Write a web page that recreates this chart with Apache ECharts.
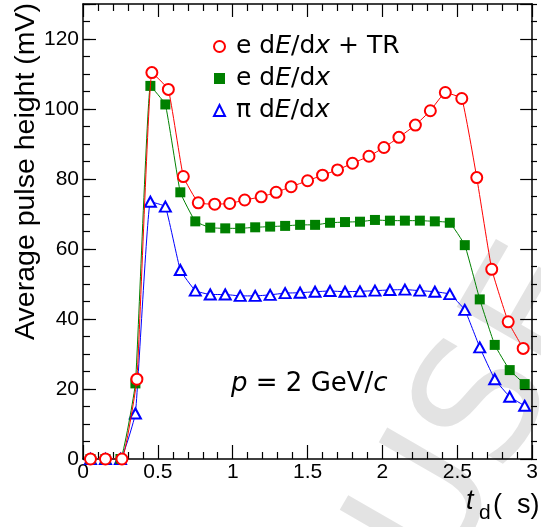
<!DOCTYPE html>
<html>
<head>
<meta charset="utf-8">
<script src="https://cdn.jsdelivr.net/npm/echarts@6/dist/echarts.min.js"></script>
<style>
  html, body { margin: 0; padding: 0; background: #ffffff; }
  #chart { width: 541px; height: 527px; }
</style>
</head>
<body>
<div id="chart"></div>
<script>
// drift time (us) of the bins
var tBins = [0.05, 0.15, 0.25, 0.35, 0.45, 0.55, 0.65, 0.75, 0.85, 0.95,
             1.05, 1.15, 1.25, 1.35, 1.45, 1.55, 1.65, 1.75, 1.85, 1.95,
             2.05, 2.15, 2.25, 2.35, 2.45, 2.55, 2.65, 2.75, 2.85, 2.95];
// the TR sample has its own (slightly wider) bins
var tBinsTR = [0.05, 0.15, 0.26, 0.36, 0.46, 0.57, 0.67, 0.77, 0.88, 0.98,
               1.08, 1.19, 1.29, 1.39, 1.50, 1.60, 1.70, 1.80, 1.91, 2.01,
               2.11, 2.22, 2.32, 2.42, 2.53, 2.63, 2.73, 2.84, 2.94];
// average pulse height (mV)
var eDedxTR = [0, 0, 0, 22.8, 110.4, 105.6, 80.7, 73.2, 72.8, 73.0,
               74.0, 74.9, 76.2, 77.8, 79.5, 81.1, 82.6, 84.5, 86.5, 89.0,
               91.9, 95.4, 99.5, 104.7, 103.0, 80.4, 54.2, 39.2, 31.6];
var eDedx = [0, 0, 0, 21.6, 106.6, 101.3, 76.2, 67.9, 66.1, 65.9,
             65.9, 66.2, 66.4, 66.6, 66.9, 66.9, 67.5, 67.7, 67.8, 68.3,
             68.1, 68.1, 68.1, 67.9, 67.5, 61.1, 45.6, 32.6, 25.4, 21.4];
var piDedx = [0, 0, 0, 13.0, 73.5, 72.1, 54.0, 48.1, 47.0, 47.0,
              46.6, 46.6, 46.9, 47.4, 47.5, 47.8, 48.0, 47.8, 47.9, 48.1,
              48.3, 48.4, 48.1, 47.8, 47.1, 42.6, 31.9, 22.8, 17.8, 15.2];

var legendLabels = {
  eTR: '{t|e d}{i|E}{t|/d}{i|x}{t| + TR}',
  e: '{t|e d}{i|E}{t|/d}{i|x}',
  pi: '{t|\u03c0 d}{i|E}{t|/d}{i|x}'
};

function pairs(xs, ys) {
  return xs.map(function (x, i) { return [x, ys[i]]; });
}

var chart = echarts.init(document.getElementById('chart'));

var frame = { show: true, onZero: false, lineStyle: { color: '#000', width: 1.5 } };
var tickStyle = { color: '#000', width: 1.2 };
var GRID = { left: 83, right: 4, top: 4, bottom: 68 };

chart.setOption({
  backgroundColor: '#ffffff',
  animation: false,
  grid: [
    Object.assign({}, GRID),
    Object.assign({}, GRID)
  ],
  xAxis: [{
    gridIndex: 0, type: 'value', position: 'bottom', min: 0, max: 3, interval: 0.5,
    axisLine: frame,
    axisTick: { inside: true, length: 14, lineStyle: tickStyle },
    minorTick: { show: true, splitNumber: 5, length: 7, lineStyle: tickStyle },
    axisLabel: { margin: 3, color: '#000', fontSize: 21, fontFamily: 'Liberation Sans' },
    splitLine: { show: false }
  }, {
    gridIndex: 0, type: 'value', position: 'top', min: 0, max: 3, interval: 0.5,
    axisLine: frame,
    axisTick: { inside: true, length: 13, lineStyle: tickStyle },
    minorTick: { show: true, splitNumber: 5, length: 7, lineStyle: tickStyle },
    axisLabel: { show: false },
    splitLine: { show: false }
  }, {
    gridIndex: 1, type: 'value', show: false, min: 0, max: 3
  }],
  yAxis: [{
    gridIndex: 0, type: 'value', position: 'left', min: 0, max: 130, interval: 20,
    axisLine: frame,
    axisTick: { inside: true, length: 13, lineStyle: tickStyle },
    axisLabel: {
      margin: 4, color: '#000', fontSize: 21, fontFamily: 'Liberation Sans',
      formatter: function (v) { return v > 120 ? '' : v; }
    },
    splitLine: { show: false }
  }, {
    gridIndex: 0, type: 'value', position: 'right', min: 0, max: 130, interval: 20,
    axisLine: frame,
    axisTick: { inside: true, length: 12, lineStyle: tickStyle },
    axisLabel: { show: false },
    splitLine: { show: false }
  }, {
    gridIndex: 1, type: 'value', position: 'left', min: 0, max: 130, interval: 5,
    axisLine: { show: false },
    axisTick: { inside: true, length: 7, lineStyle: tickStyle },
    axisLabel: { show: false },
    splitLine: { show: false }
  }, {
    gridIndex: 1, type: 'value', position: 'right', min: 0, max: 130, interval: 5,
    axisLine: { show: false },
    axisTick: { inside: true, length: 6, lineStyle: tickStyle },
    axisLabel: { show: false },
    splitLine: { show: false }
  }],
  legend: {
    orient: 'vertical', left: 208, top: 29,
    itemWidth: 11, itemHeight: 11, itemGap: 7,
    data: [
      { name: 'eTR', icon: 'emptyCircle', itemStyle: { color: '#ff0000', borderColor: '#ff0000', borderWidth: 1 } },
      { name: 'e', icon: 'rect', itemStyle: { color: '#008000', borderWidth: 0 } },
      { name: 'pi', icon: 'emptyTriangle', itemStyle: { color: '#0000ff', borderColor: '#0000ff', borderWidth: 1 } }
    ],
    formatter: function (name) { return legendLabels[name]; },
    textStyle: {
      color: '#000', fontSize: 25, lineHeight: 25, fontFamily: 'DejaVu Sans',
      padding: [0, 0, 0, 6],
      rich: {
        t: { fontSize: 25, fontFamily: 'DejaVu Sans', color: '#000' },
        i: { fontSize: 25, fontFamily: 'DejaVu Sans', fontStyle: 'italic', color: '#000' }
      }
    }
  },
  graphic: [{
    type: 'text', x: 41, y: 3, rotation: Math.PI / 2, z: 10,
    style: {
      text: 'Average pulse height (mV)', fill: '#000',
      fontSize: 28.5, fontFamily: 'Liberation Sans',
      align: 'right', verticalAlign: 'bottom'
    }
  }, {
    type: 'text', x: 466, y: 515, z: 10,
    style: { text: 't', fill: '#000', fontSize: 27, fontFamily: 'Liberation Sans',
             fontStyle: 'italic', align: 'left', verticalAlign: 'bottom' }
  }, {
    type: 'text', x: 479, y: 524, z: 10,
    style: { text: 'd', fill: '#000', fontSize: 21, fontFamily: 'Liberation Sans',
             align: 'left', verticalAlign: 'bottom' }
  }, {
    type: 'text', x: 493, y: 519, z: 10,
    style: { text: '(  s)', fill: '#000', fontSize: 27, fontFamily: 'Liberation Sans',
             align: 'left', verticalAlign: 'bottom' }
  }, {
    type: 'text', x: 231, y: 384, z: 10,
    style: {
      text: '{i|p} = 2 GeV/{i|c}', fill: '#000',
      fontSize: 26, fontFamily: 'DejaVu Sans', align: 'left', verticalAlign: 'middle',
      rich: {
        i: { fontSize: 26, fontFamily: 'DejaVu Sans', fontStyle: 'italic' }
      }
    }
  }, {
    // light watermark behind everything
    type: 'text', x: 475, y: 605, rotation: 60 * Math.PI / 180, z: -1, silent: true,
    style: { text: 'USE', fill: '#e3e3e3', fontSize: 170, fontFamily: 'DejaVu Sans',
             align: 'left', verticalAlign: 'bottom' }
  }],
  series: [{
    name: 'pi', type: 'line', z: 3,
    data: pairs(tBins, piDedx),
    symbol: 'emptyTriangle', symbolSize: [11, 10],
    smooth: 0.1,
    lineStyle: { color: '#0000ff', width: 1 },
    itemStyle: { color: '#0000ff', borderColor: '#0000ff', borderWidth: 1 }
  }, {
    name: 'e', type: 'line', z: 4,
    data: pairs(tBins, eDedx),
    symbol: 'rect', symbolSize: 10,
    smooth: 0.1,
    lineStyle: { color: '#008000', width: 1 },
    itemStyle: { color: '#008000', borderWidth: 0 }
  }, {
    name: 'eTR', type: 'line', z: 5,
    data: pairs(tBinsTR, eDedxTR),
    symbol: 'emptyCircle', symbolSize: 11,
    smooth: 0.1,
    lineStyle: { color: '#ff0000', width: 1 },
    itemStyle: { color: '#ff0000', borderColor: '#ff0000', borderWidth: 1 }
  }]
});
</script>
</body>
</html>
